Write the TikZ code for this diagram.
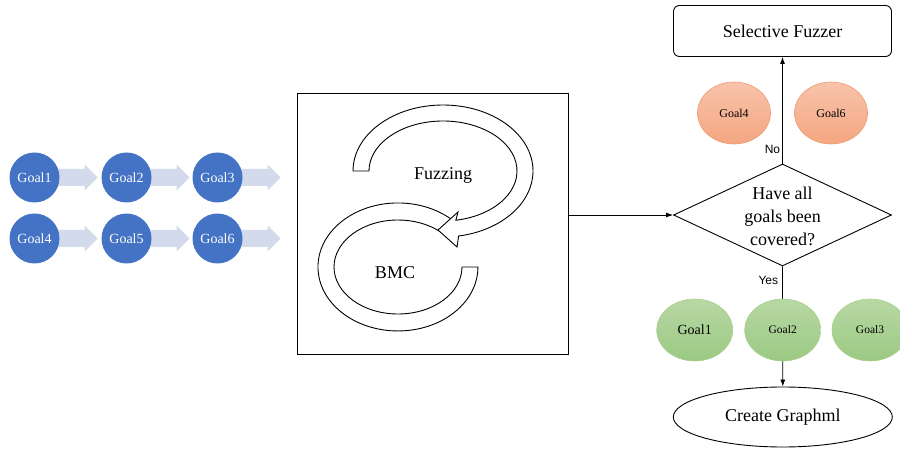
\documentclass[tikz,border=0pt]{standalone}
\usepackage{fontspec}
\setmainfont{Liberation Serif}
\newfontfamily\lsans{Liberation Sans}
\usetikzlibrary{shapes.geometric,arrows.meta,backgrounds}
\definecolor{goalblue}{HTML}{4472C4}
\definecolor{flowarrow}{HTML}{D3DAEC}
\definecolor{orgtop}{HTML}{F8C3AB}
\definecolor{orgbot}{HTML}{F4A681}
\definecolor{orgline}{HTML}{F09B6E}
\definecolor{grntop}{HTML}{B8D8A4}
\definecolor{grnbot}{HTML}{9BC983}
\definecolor{grnline}{HTML}{A9D18E}
\begin{document}
\begin{tikzpicture}[x=1pt,y=-1pt,
  bluegoal/.style={circle,fill=goalblue,minimum size=50pt,inner sep=0pt,text=white,font=\fontsize{14}{15}\selectfont},
  orgoal/.style={ellipse,draw=orgline,line width=0.6pt,top color=orgtop,bottom color=orgbot,minimum width=73pt,minimum height=62pt,inner sep=0pt,font=\fontsize{12}{13}\selectfont},
  grgoal/.style={ellipse,draw=grnline,line width=0.6pt,top color=grntop,bottom color=grnbot,minimum width=76pt,minimum height=62pt,inner sep=0pt},
  conn/.style={draw,line width=0.8pt,-{Latex[length=7pt,width=5pt]}},
  lbl/.style={font=\lsans\fontsize{12}{13}\selectfont},
  big/.style={font=\fontsize{18}{23}\selectfont},
  band/.style={draw,fill=white,line width=0.9pt,line join=miter}]
\useasboundingbox (0,0) rectangle (900,449);

% left goal chains
\node[bluegoal] (g1) at (34.5,177.5) {Goal1};
\node[bluegoal] (g2) at (126.5,177.5) {Goal2};
\node[bluegoal] (g3) at (217.5,177.5) {Goal3};
\node[bluegoal] (g4) at (34.5,238.5) {Goal4};
\node[bluegoal] (g5) at (126.5,238.5) {Goal5};
\node[bluegoal] (g6) at (217.5,238.5) {Goal6};
\begin{scope}[on background layer]
\foreach \a in {g1,g2,g3,g4,g5,g6}
  \fill[flowarrow] ([xshift=-3pt]\a.east) ++(0,-8.5) -- ++(28,0) -- ++(0,-4.5)
    -- ++(13,13) -- ++(-13,13) -- ++(0,-4.5) -- ++(-28,0) -- cycle;
\end{scope}

% central box with loops
\node[draw,line width=0.8pt,minimum width=271pt,minimum height=261pt,inner sep=0pt] (box) at (432.5,223.5) {};
\draw[band] (451.5,219.4) arc[start angle=-48,end angle=-360,x radius=80,y radius=64]
  -- (462,267) arc[start angle=-360,end angle=-48,x radius=64,y radius=47] -- cycle;
\draw[band] (353,171) arc[start angle=180,end angle=440,x radius=90,y radius=66]
  -- (457,247) -- (438,230) -- (458,212) -- (455.85,220.24)
  arc[start angle=440,end angle=180,x radius=74,y radius=50] -- cycle;
\node[big] (fz) at (443,175) {Fuzzing};
\node[big] (bmc) at (395,273) {BMC};

% right flow
\node[draw,rounded corners=6pt,line width=0.9pt,minimum width=218pt,minimum height=51pt,inner sep=0pt,big] (sf) at (782.5,31) {Selective Fuzzer};
\node[diamond,draw,line width=0.9pt,minimum width=218pt,minimum height=102pt,inner sep=0pt] (dia) at (782.5,215) {};
\node[big,align=center] (q) at (782.5,216) {Have all\\goals been\\covered?};
\node[ellipse,draw,line width=0.9pt,minimum width=219pt,minimum height=60pt,inner sep=0pt,big] (cg) at (782.8,417) {Create Graphml};

\draw[conn] (box.east |- dia.west) -- (dia.west);
\draw[conn] (dia.north) -- node[lbl,left,inner sep=2pt,pos=0.13] {No} (sf.south);
\draw[conn] (dia.south) -- node[lbl,left,inner sep=4pt,pos=0.12] {Yes} (cg.north);

\node[orgoal] (o4) at (734,113) {Goal4};
\node[orgoal] (o6) at (831,113) {Goal6};
\node[grgoal,font=\fontsize{14}{15}\selectfont] (e1) at (694.7,330) {Goal1};
\node[grgoal,font=\fontsize{11.5}{13}\selectfont] (e2) at (782.7,330) {Goal2};
\node[grgoal,font=\fontsize{11.5}{13}\selectfont] (e3) at (870,330) {Goal3};
\end{tikzpicture}
\end{document}
